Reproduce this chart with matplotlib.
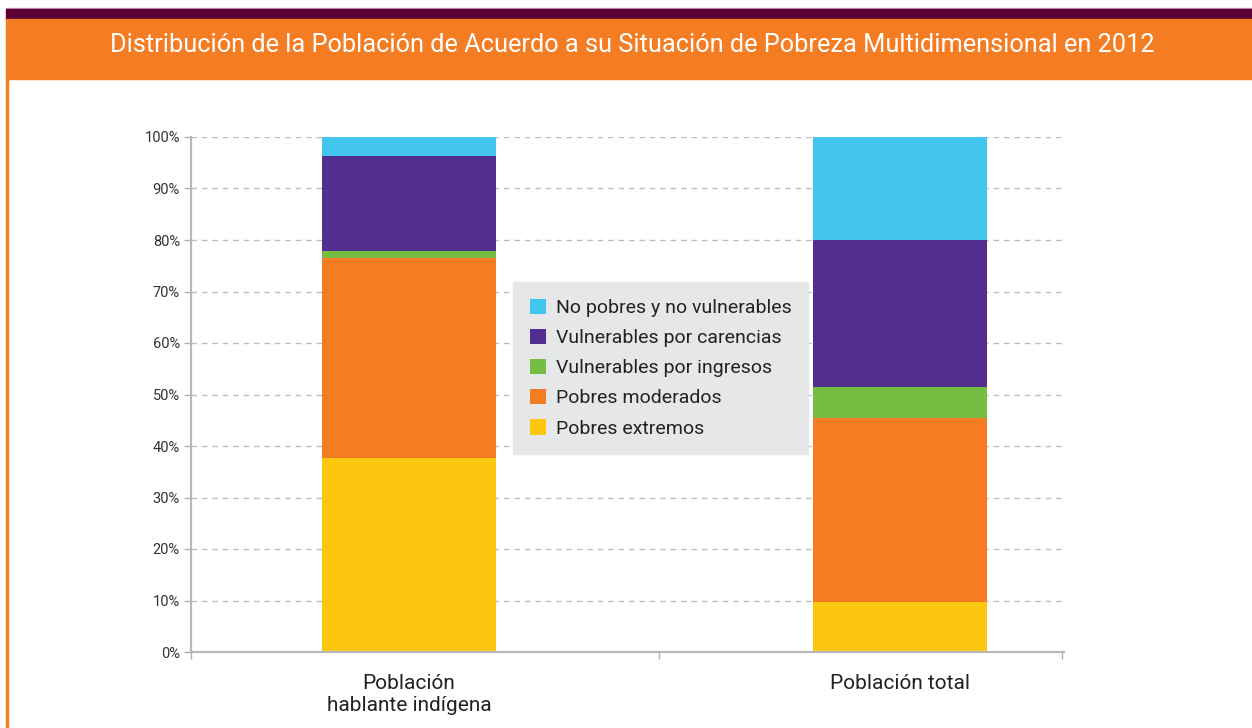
import numpy as np
import matplotlib
matplotlib.use("Agg")
import matplotlib.pyplot as plt
from matplotlib.patches import Rectangle
from matplotlib.ticker import FixedLocator

plt.rcParams['font.family'] = ['Roboto', 'DejaVu Sans']

# datos (% de la población, 2012)
categorias = ['Población\nhablante indígena', 'Población total']
series = ['Pobres extremos', 'Pobres moderados', 'Vulnerables por ingresos',
          'Vulnerables por carencias', 'No pobres y no vulnerables']
pobres_extremos = [37.6, 9.7]
pobres_moderados = [39.0, 35.8]
vuln_ingresos = [1.2, 5.9]
vuln_carencias = [18.45, 28.6]
no_pobres = [3.75, 20.0]
yticks = [0, 10, 20, 30, 40, 50, 60, 70, 80, 90, 100]

colores = ['#fdc70f', '#f47d23', '#76bd43', '#512e8f', '#43c6ed']
valores = [pobres_extremos, pobres_moderados, vuln_ingresos, vuln_carencias, no_pobres]

W, H = 1252, 728
fig = plt.figure(figsize=(W / 100, H / 100), dpi=100)
fig.patch.set_facecolor('white')

# cabecera
fig.patches.append(Rectangle((6 / W, 1 - 9 / H), 1 - 6 / W, 1.5 / H, transform=fig.transFigure,
                             color='#c9a7c0', zorder=0))
fig.patches.append(Rectangle((6 / W, 1 - 19 / H), 1 - 6 / W, 10 / H, transform=fig.transFigure,
                             color='#5c0035', zorder=0))
fig.patches.append(Rectangle((6 / W, 1 - 79 / H), 1 - 6 / W, 60 / H, transform=fig.transFigure,
                             color='#f47d23', zorder=0))
fig.patches.append(Rectangle((6 / W, 0), 1.5 / W, 1 - 79 / H, transform=fig.transFigure,
                             color='#f47d23', zorder=0))
fig.text(632 / W, 1 - 45 / H,
         'Distribución de la Población de Acuerdo a su Situación de Pobreza Multidimensional en 2012',
         color='white', fontsize=18.3, ha='center', va='center')

# ejes: x=0 -> 409 px, x=1 -> 900 px
x0, x1 = 191, 1064
unit = 491.0
ax = fig.add_axes([x0 / W, 1 - 652 / H, (x1 - x0) / W, (652 - 137) / H])
ax.set_xlim((x0 - 409) / unit, (x1 - 409) / unit)
ax.set_ylim(0, 100)

x = np.arange(len(categorias))
bottom = np.zeros(len(categorias))
barras = []
for vals, col, nombre in zip(valores, colores, series):
    b = ax.bar(x, vals, width=174 / unit, bottom=bottom, color=col, label=nombre, zorder=3)
    barras.append(b)
    bottom += np.array(vals)

ax.set_yticks(yticks)
ax.set_yticklabels([f'{v}%' for v in yticks], fontsize=10.5, color='#333333')
ax.yaxis.grid(True, linestyle=(0, (4, 3.5)), color='#bdbdbd', linewidth=1, zorder=0)
ax.tick_params(axis='y', length=5, width=1, color='#b0b0b0', pad=3)

ax.set_xticks(x)
ax.set_xticklabels(categorias, fontsize=15, color='#222222', linespacing=1.2)
ax.tick_params(axis='x', length=0, pad=16)
ax.xaxis.set_minor_locator(FixedLocator([(x0 - 409) / unit, (659 - 409) / unit, (1062 - 409) / unit]))
ax.tick_params(axis='x', which='minor', length=5, width=1, color='#b0b0b0', direction='out')

for s in ['top', 'right']:
    ax.spines[s].set_visible(False)
for s in ['left', 'bottom']:
    ax.spines[s].set_color('#b8b8b8')
    ax.spines[s].set_linewidth(1.6)
ax.spines['bottom'].set_zorder(4)

handles = [b[0] for b in barras][::-1]
leg = ax.legend(handles, series[::-1], loc='upper left',
                bbox_to_anchor=((513 - x0) / (x1 - x0), (652 - 282) / 515),
                fontsize=14, frameon=True, fancybox=False, framealpha=1,
                facecolor='#e6e7e8', edgecolor='#e6e7e8', handlelength=0.85,
                handleheight=0.85, handletextpad=0.5, labelspacing=0.6,
                borderpad=0.85, borderaxespad=0, labelcolor='#222222')
leg.set_zorder(5)

fig.savefig('out.png', dpi=100)
